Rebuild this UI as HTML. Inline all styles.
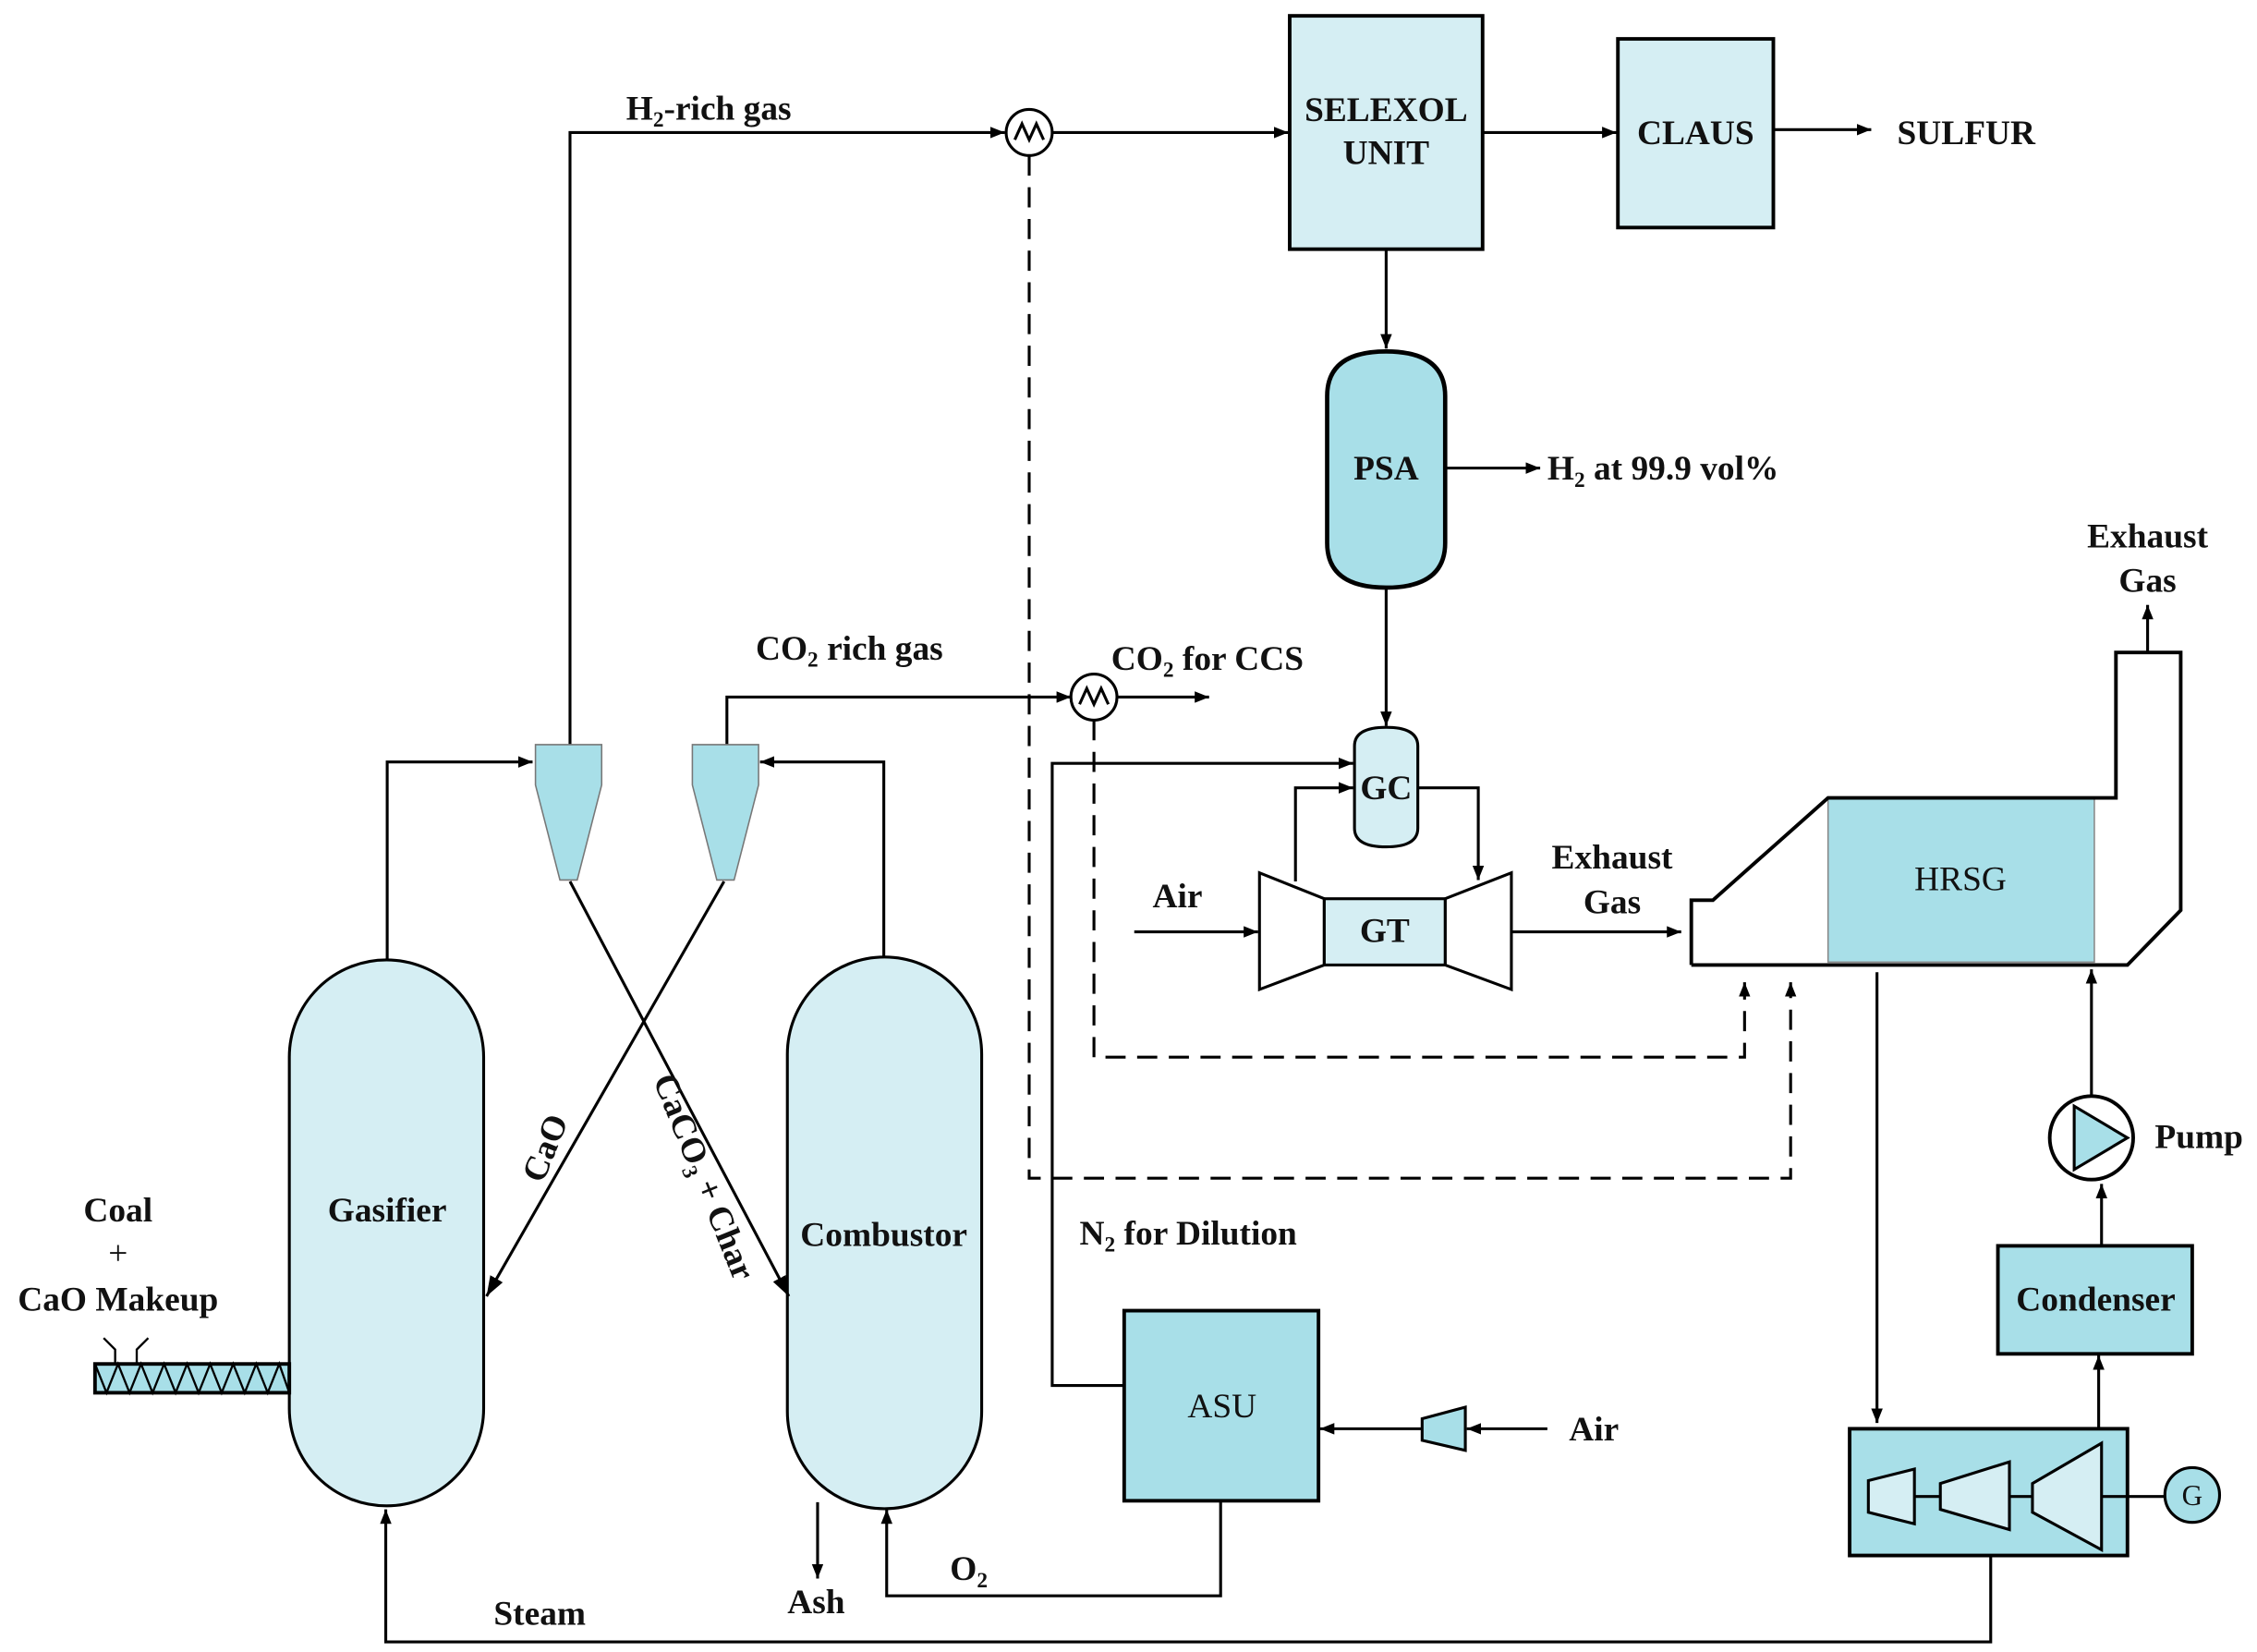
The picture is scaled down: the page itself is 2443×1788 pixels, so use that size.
<!DOCTYPE html>
<html><head><meta charset="utf-8"><style>
html,body{margin:0;padding:0;background:#fff}
svg{display:block}
text{font-family:"Liberation Serif",serif;font-weight:bold;font-size:24px;fill:#111}
</style></head><body>
<svg width="2443" height="1788" viewBox="0 0 1568 1147" preserveAspectRatio="none" xmlns="http://www.w3.org/2000/svg">
<defs>
<marker id="a" markerWidth="10" markerHeight="8" refX="10" refY="4" orient="auto" markerUnits="userSpaceOnUse"><path d="M0,0 L10,4 L0,8 z" fill="#000"/></marker>
<marker id="b" markerWidth="14" markerHeight="10" refX="14" refY="5" orient="auto" markerUnits="userSpaceOnUse"><path d="M0,0 L14,5 L0,10 z" fill="#000"/></marker>
</defs>
<g fill="none" stroke="#000" stroke-width="2">
<rect x="896" y="11" width="134" height="162" fill="#d5eef3" stroke-width="2.5"/>
<rect x="1124" y="27" width="108" height="131" fill="#d5eef3" stroke-width="2.5"/>
<line x1="1030" y1="92" x2="1123" y2="92" marker-end="url(#a)"/>
<line x1="1232" y1="90" x2="1300" y2="90" marker-end="url(#a)"/>
<polyline points="396,517 396,92 698,92" marker-end="url(#a)"/>
<line x1="731" y1="92" x2="895" y2="92" marker-end="url(#a)"/>
<circle cx="715" cy="92" r="16" fill="#fff"/>
<path d="M705,97 L710,86 L715,97 L720,86 L725,97"/>
<polyline points="715,108 715,818 1244,818 1244,682" stroke-dasharray="14,8" marker-end="url(#a)"/>
<line x1="963" y1="173" x2="963" y2="242" marker-end="url(#a)"/>
<path d="M922,275 Q922,244 963,244 Q1004,244 1004,275 L1004,377 Q1004,408 963,408 Q922,408 922,377 Z" fill="#a8dfe8" stroke-width="3"/>
<line x1="1004" y1="325" x2="1070" y2="325" marker-end="url(#a)"/>
<line x1="963" y1="408" x2="963" y2="504" marker-end="url(#a)"/>
<path d="M941,518 Q941,505 963,505 Q985,505 985,518 L985,575 Q985,588 963,588 Q941,588 941,575 Z" fill="#d5eef3"/>
<polyline points="505,517 505,484 744,484" marker-end="url(#a)"/>
<line x1="776" y1="484" x2="840" y2="484" marker-end="url(#a)"/>
<circle cx="760" cy="484" r="16" fill="#fff"/>
<path d="M750,489 L755,478 L760,489 L765,478 L770,489"/>
<polyline points="760,500 760,734 1212,734 1212,682" stroke-dasharray="14,8" marker-end="url(#a)"/>
<polyline points="781,962 731,962 731,530 940,530" marker-end="url(#a)"/>
<polyline points="985,547 1027,547 1027,611" marker-end="url(#a)"/>
<polyline points="900,612 900,547 940,547" marker-end="url(#a)"/>
<polygon points="875,606 920,624 920,670 875,687" fill="#fff"/>
<polygon points="1004,624 1050,606 1050,687 1004,670" fill="#fff"/>
<rect x="920" y="624" width="84" height="46" fill="#d5eef3"/>
<line x1="788" y1="647" x2="874" y2="647" marker-end="url(#a)"/>
<line x1="1050" y1="647" x2="1168" y2="647" marker-end="url(#a)"/>
<rect x="1270" y="554" width="185" height="114" fill="#a8dfe8" stroke="#888" stroke-width="1"/>
<polyline points="1175,670 1175,625 1190,625 1270,554 1470,554 1470,453 1515,453 1515,632 1478,670 1175,670" stroke-width="2.5"/>
<line x1="1492" y1="453" x2="1492" y2="420" marker-end="url(#a)"/>
<line x1="1304" y1="675" x2="1304" y2="988" marker-end="url(#a)"/>
<rect x="1285" y="992" width="193" height="88" fill="#a8dfe8" stroke-width="2.5"/>
<polygon points="1298,1028 1330,1020 1330,1058 1298,1050" fill="#d5eef3"/>
<polygon points="1348,1030 1396,1015 1396,1062 1348,1048" fill="#d5eef3"/>
<polygon points="1412,1030 1460,1002 1460,1076 1412,1050" fill="#d5eef3"/>
<line x1="1330" y1="1039" x2="1348" y2="1039"/>
<line x1="1396" y1="1039" x2="1412" y2="1039"/>
<line x1="1460" y1="1039" x2="1504" y2="1039"/>
<circle cx="1523" cy="1038" r="19" fill="#a8dfe8"/>
<line x1="1458" y1="992" x2="1458" y2="941" marker-end="url(#a)"/>
<rect x="1388" y="865" width="135" height="75" fill="#a8dfe8" stroke-width="2.5"/>
<line x1="1460" y1="865" x2="1460" y2="822" marker-end="url(#a)"/>
<circle cx="1453" cy="790" r="29" fill="#fff" stroke-width="2.5"/>
<polygon points="1441,768 1478,790 1441,812" fill="#a8dfe8"/>
<line x1="1453" y1="761" x2="1453" y2="673" marker-end="url(#a)"/>
<polyline points="1383,1080 1383,1140 268,1140 268,1048" marker-end="url(#a)"/>
<path d="M201,734 A67,67 0 0 1 336,734 L336,978 A67,67 0 0 1 201,978 Z" fill="#d5eef3"/>
<path d="M547,732 A67,67 0 0 1 682,732 L682,980 A67,67 0 0 1 547,980 Z" fill="#d5eef3"/>
<polyline points="269,667 269,529 370,529" marker-end="url(#a)"/>
<polyline points="614,665 614,529 528,529" marker-end="url(#a)"/>
<polygon points="372,517 418,517 418,545 401,611 389,611 372,545" fill="#a8dfe8" stroke="#777" stroke-width="1"/>
<polygon points="481,517 527,517 527,545 510,611 498,611 481,545" fill="#a8dfe8" stroke="#777" stroke-width="1"/>
<line x1="396" y1="612" x2="548" y2="900" marker-end="url(#b)"/>
<line x1="503" y1="612" x2="338" y2="900" marker-end="url(#b)"/>
<rect x="66" y="947" width="135" height="20" fill="#a8dfe8" stroke-width="2.5"/>
<path d="M66,947 L74,967 L82,947 L90,967 L98,947 L106,967 L114,947 L122,967 L130,947 L138,967 L146,947 L154,967 L162,947 L170,967 L178,947 L186,967 L194,947 L201,967" stroke-width="1.5"/>
<path d="M72,929 L80,937 L80,947 M103,929 L95,937 L95,947" stroke-width="1.5"/>
<line x1="568" y1="1043" x2="568" y2="1096" marker-end="url(#a)"/>
<polyline points="848,1042 848,1108 616,1108 616,1048" marker-end="url(#a)"/>
<rect x="781" y="910" width="135" height="132" fill="#a8dfe8" stroke-width="2.5"/>
<polygon points="988,985 1018,977 1018,1007 988,1000" fill="#a8dfe8"/>
<line x1="988" y1="992" x2="917" y2="992" marker-end="url(#a)"/>
<line x1="1075" y1="992" x2="1019" y2="992" marker-end="url(#a)"/>
</g>
<g>
<text x="963" y="84" text-anchor="middle">SELEXOL</text>
<text x="963" y="114" text-anchor="middle">UNIT</text>
<text x="1178" y="100" text-anchor="middle">CLAUS</text>
<text x="1318" y="100">SULFUR</text>
<text x="435" y="83">H<tspan font-size="15" dy="5">2</tspan><tspan dy="-5">-rich gas</tspan></text>
<text x="963" y="333" text-anchor="middle">PSA</text>
<text x="1075" y="333">H<tspan font-size="15" dy="5">2</tspan><tspan dy="-5"> at 99.9 vol%</tspan></text>
<text x="525" y="458">CO<tspan font-size="15" dy="5">2</tspan><tspan dy="-5"> rich gas</tspan></text>
<text x="772" y="465">CO<tspan font-size="15" dy="5">2</tspan><tspan dy="-5"> for CCS</tspan></text>
<text x="963" y="555" text-anchor="middle">GC</text>
<text x="962" y="654" text-anchor="middle">GT</text>
<text x="818" y="630" text-anchor="middle">Air</text>
<text x="1120" y="603" text-anchor="middle">Exhaust</text>
<text x="1120" y="634" text-anchor="middle">Gas</text>
<text x="1492" y="380" text-anchor="middle">Exhaust</text>
<text x="1492" y="411" text-anchor="middle">Gas</text>
<text x="1362" y="618" text-anchor="middle" style="font-weight:normal">HRSG</text>
<text x="1497" y="797">Pump</text>
<text x="1456" y="910" text-anchor="middle">Condenser</text>
<text x="1523" y="1045" text-anchor="middle" style="font-weight:normal;font-size:20px">G</text>
<text x="750" y="864">N<tspan font-size="15" dy="5">2</tspan><tspan dy="-5"> for Dilution</tspan></text>
<text x="849" y="984" text-anchor="middle" style="font-weight:normal">ASU</text>
<text x="1090" y="1000">Air</text>
<text x="269" y="848" text-anchor="middle">Gasifier</text>
<text x="614" y="865" text-anchor="middle">Combustor</text>
<text x="82" y="848" text-anchor="middle">Coal</text>
<text x="82" y="878" text-anchor="middle" style="font-weight:normal">+</text>
<text x="82" y="910" text-anchor="middle">CaO Makeup</text>
<text x="343" y="1128">Steam</text>
<text x="567" y="1120" text-anchor="middle">Ash</text>
<text x="660" y="1097">O<tspan font-size="15" dy="5">2</tspan></text>
<text transform="translate(386,800) rotate(-68)" text-anchor="middle">CaO</text>
<text transform="translate(482,820) rotate(68)" text-anchor="middle">CaCO<tspan font-size="15" dy="5">3</tspan><tspan dy="-5"> + Char</tspan></text>
</g>
</svg>
</body></html>
